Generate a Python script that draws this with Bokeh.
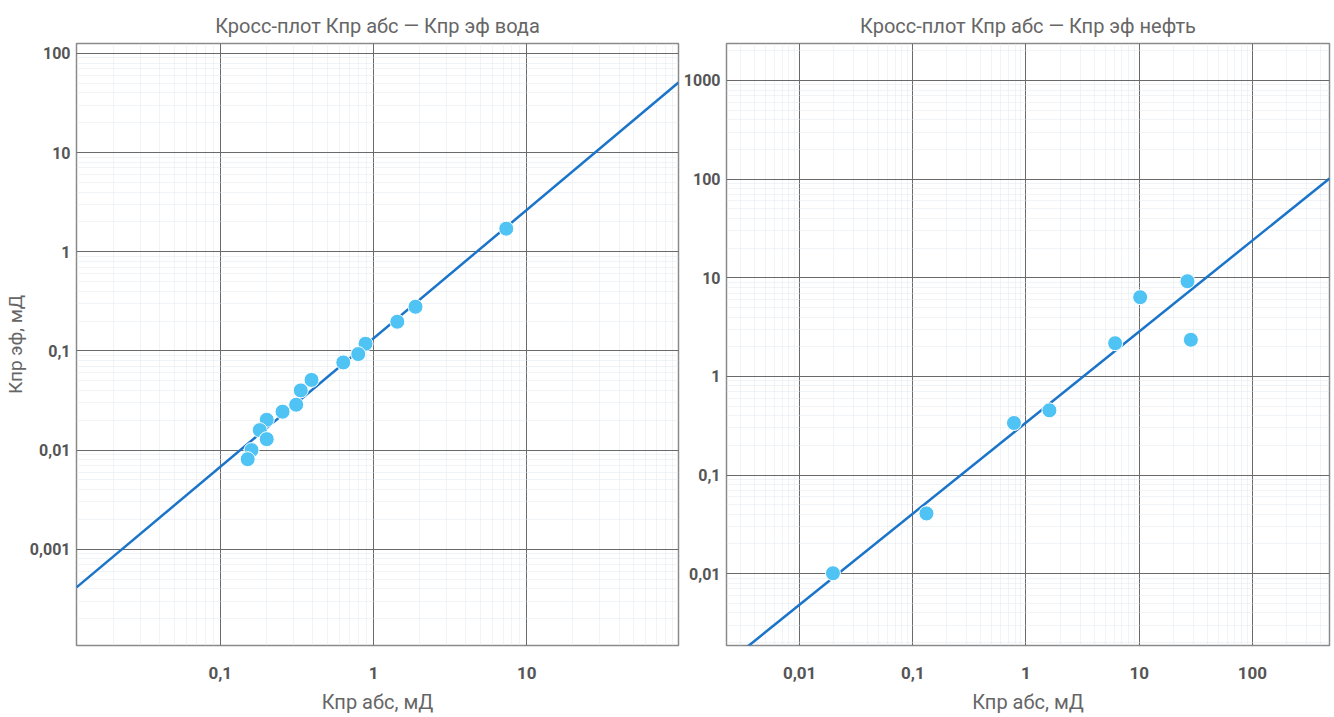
import numpy as np
from bokeh.plotting import figure
from bokeh.layouts import row
from bokeh.models import Range1d, FixedTicker, ColumnDataSource
from bokeh.embed import file_html
from bokeh.resources import INLINE

FONT = "Roboto"

# ---- data: water (left) ----
water_abs = [7.35, 1.88, 1.43, 0.887, 0.795, 0.635, 0.394, 0.335, 0.313, 0.255, 0.201, 0.181, 0.201, 0.160, 0.151]
water_eff = [1.71, 0.279, 0.197, 0.118, 0.093, 0.0766, 0.051, 0.040, 0.0287, 0.0244, 0.0202, 0.0159, 0.0129, 0.0100, 0.0081]
water_fit = [0.134, 1.296]   # y = a * x^b

# ---- data: oil (right) ----
oil_abs = [0.0197, 0.132, 0.783, 1.61, 6.13, 10.2, 26.7, 28.6]
oil_eff = [0.0101, 0.0408, 0.337, 0.453, 2.17, 6.35, 9.22, 2.35]
oil_fit = [0.34, 0.923]

# ---- ticks ----
left_xticks = [0.1, 1, 10]
left_xlabels = ["0,1", "1", "10"]
left_yticks = [0.001, 0.01, 0.1, 1, 10, 100]
left_ylabels = ["0,001", "0,01", "0,1", "1", "10", "100"]
right_xticks = [0.01, 0.1, 1, 10, 100]
right_xlabels = ["0,01", "0,1", "1", "10", "100"]
right_yticks = [0.01, 0.1, 1, 10, 100, 1000]
right_ylabels = ["0,01", "0,1", "1", "10", "100", "1000"]

left_xrange = [0.01153, 97.8]
left_yrange = [1.07e-4, 126]
right_xrange = [0.00226, 480]
right_yrange = [0.00187, 2370]

titles = ["Кросс-плот Кпр абс — Кпр эф вода", "Кросс-плот Кпр абс — Кпр эф нефть"]
xlabel = "Кпр абс, мД"
ylabel = "Кпр эф, мД"


def minor_for(lo, hi):
    out = []
    for e in range(int(np.floor(np.log10(lo))) - 1, int(np.ceil(np.log10(hi))) + 1):
        for k in range(2, 10):
            out.append(k * 10.0 ** e)
    return out


def make(title, xs, ys, fit, xr, yr, xt, xl, yt, yl, width, mbl, mbr, show_ylabel):
    p = figure(width=width, height=717, x_axis_type="log", y_axis_type="log",
               x_range=Range1d(*xr), y_range=Range1d(*yr),
               output_backend="svg", toolbar_location=None,
               min_border_left=mbl, min_border_right=mbr,
               min_border_top=43, min_border_bottom=72)
    p.title.text = title
    p.title.align = "center"
    p.title.vertical_align = "top"
    p.title.text_font = FONT
    p.title.text_font_size = "20px"
    p.title.text_font_style = "normal"
    p.title.text_color = "#666666"
    p.title.offset = 0
    p.title.standoff = 8

    p.outline_line_color = "#8a8a8a"
    p.outline_line_width = 1.5
    p.background_fill_color = "white"
    p.border_fill_color = "white"

    p.xaxis.ticker = FixedTicker(ticks=xt, minor_ticks=minor_for(*xr))
    p.yaxis.ticker = FixedTicker(ticks=yt, minor_ticks=minor_for(*yr))
    p.xaxis.major_label_overrides = {v: s for v, s in zip(xt, xl)}
    p.yaxis.major_label_overrides = {v: s for v, s in zip(yt, yl)}

    for ax in (p.xaxis, p.yaxis):
        ax.axis_line_color = None
        ax.major_tick_line_color = None
        ax.minor_tick_line_color = None
        ax.major_tick_out = 0
        ax.minor_tick_out = 0
        ax.major_label_text_font = FONT
        ax.major_label_text_font_style = "bold"
        ax.major_label_text_color = "#555555"
        ax.axis_label_text_font = FONT
        ax.axis_label_text_font_style = "normal"
        ax.axis_label_text_color = "#666666"
    p.xaxis.major_label_text_font_size = "17px"
    p.yaxis.major_label_text_font_size = "16px"
    p.xaxis.axis_label_text_font_size = "20px"
    p.yaxis.axis_label_text_font_size = "19px"
    p.xaxis.major_label_standoff = 21
    p.xaxis.axis_label = xlabel
    p.xaxis.axis_label_standoff = 8
    p.yaxis.major_label_standoff = 6
    if show_ylabel:
        p.yaxis.axis_label = ylabel
        p.yaxis.axis_label_standoff = 0

    p.grid.grid_line_color = "#6a6a6a"
    p.grid.grid_line_width = 1
    p.grid.minor_grid_line_color = "#dfe6ee"
    p.grid.minor_grid_line_alpha = 0.45

    lx = np.array(xr)
    ly = fit[0] * lx ** fit[1]
    p.line(lx, ly, line_color="#1a74c9", line_width=2.5)

    src = ColumnDataSource(dict(x=xs, y=ys))
    p.scatter("x", "y", source=src, size=15, fill_color="#4fc3f3",
              line_color="white", line_width=1)
    return p


p1 = make(titles[0], water_abs, water_eff, water_fit, left_xrange, left_yrange,
          left_xticks, left_xlabels, left_yticks, left_ylabels, 680, 75, 2, True)
p2 = make(titles[1], oil_abs, oil_eff, oil_fit, right_xrange, right_yrange,
          right_xticks, right_xlabels, right_yticks, right_ylabels, 654, 46, 5, False)

layout = row(p1, p2)
open("out.html", "w").write(file_html(layout, INLINE))
